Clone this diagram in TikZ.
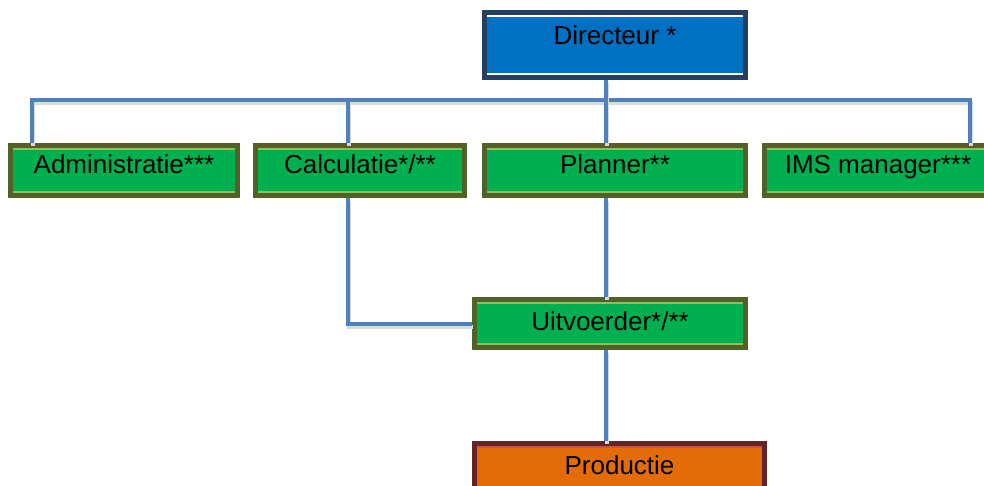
\documentclass[tikz,border=0pt]{standalone}
\usepackage{fontspec}
\setmainfont{Liberation Sans}
\usepackage{tikz}

\definecolor{linkblue}{HTML}{4F81BD}
\definecolor{dirblue}{HTML}{0070C0}
\definecolor{dirnavy}{HTML}{243F60}
\definecolor{staffgreen}{HTML}{00B050}
\definecolor{staffolive}{HTML}{4F6228}
\definecolor{staffline}{HTML}{9BBB59}
\definecolor{prodorange}{HTML}{E36C09}
\definecolor{prodbrown}{HTML}{632523}
\definecolor{prodline}{HTML}{D0504D}

\tikzset{
  unit/.style 2 args={draw=#1, fill=#2, line width=5pt, rectangle,
    font=\fontsize{26}{30}\selectfont, text height=19pt, inner sep=0pt},
  rim/.style={path picture={
    \draw[#1, line width=1.5pt]
      ([yshift=-3.5pt]path picture bounding box.north west) -- ([yshift=-3.5pt]path picture bounding box.north east)
      ([yshift=3.5pt]path picture bounding box.south west) -- ([yshift=3.5pt]path picture bounding box.south east);}},
  link/.style={draw=linkblue, line width=4pt,
    preaction={draw=gray!30, line width=4pt, transform canvas={shift={(1pt,-3pt)}}}}
}

\begin{document}
\begin{tikzpicture}[x=1pt, y=-1pt]
        \useasboundingbox (0,0) rectangle (984,486);
        \node[unit={dirnavy}{dirblue}, rim=white, minimum width=261pt, minimum height=65pt, text depth=20pt] (dir) at (615,45) {Directeur *};
        \node[unit={staffolive}{staffgreen}, rim=staffline, minimum width=227pt, minimum height=50pt, text depth=12pt] (adm) at (124,170.5) {Administratie***};
        \node[unit={staffolive}{staffgreen}, rim=staffline, minimum width=209pt, minimum height=50pt, text depth=12pt] (calc) at (360,170.5) {Calculatie*/**};
        \node[unit={staffolive}{staffgreen}, rim=staffline, minimum width=261pt, minimum height=50pt, text depth=12pt] (plan) at (615,170.5) {Planner**};
        \node[unit={staffolive}{staffgreen}, rim=staffline, minimum width=227pt, minimum height=50pt, text depth=12pt] (ims) at (878,170.5) {IMS manager***};
        \node[unit={staffolive}{staffgreen}, rim=staffline, minimum width=271pt, minimum height=48pt, text depth=5pt] (uitv) at (610,323.5) {Uitvoerder*/**};
        \node[unit={prodbrown}{prodorange}, rim=prodline, minimum width=290pt, minimum height=50pt, text depth=7.5pt] (prod) at (619.5,468.5) {Productie};

        \coordinate (barL) at (32,100);
        \coordinate (barR) at (970,100);
        \coordinate (calcx) at (348,100);
        \coordinate (spine) at (606,100);

        \draw[link] (barL |- adm.north) -- (barL) -- (barR) -- (barR |- ims.north);
        \draw[link] (calcx) -- (calcx |- calc.north);
        \draw[link] (spine |- dir.south) -- (spine |- plan.north);
        \draw[link] (calcx |- calc.south) |- (uitv.west);
        \draw[link] (spine |- plan.south) -- (spine |- uitv.north);
        \draw[link] (spine |- uitv.south) -- (spine |- prod.north);
\end{tikzpicture}
\end{document}
